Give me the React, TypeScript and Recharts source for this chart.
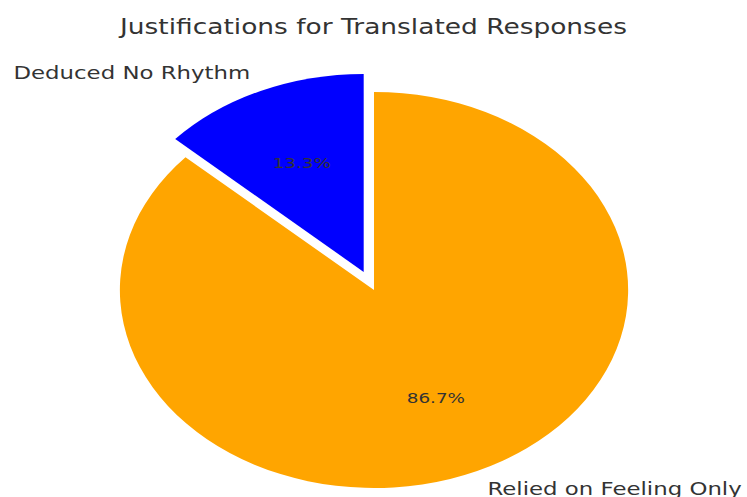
import React from 'react';
import { PieChart, Pie, Cell, Sector } from 'recharts';

const labels = ['Deduced No Rhythm', 'Relied on Feeling Only'];
const shares = [13.3, 86.7];
const colors = ['#0000ff', '#ffa500'];
const explode = [0.1, 0];

const data = labels.map((name, i) => ({ name, value: shares[i] }));

// the reference picture is stretched sideways, so draw narrow and scale the whole thing
const W = 582;
const H = 497;
const SX = 747 / W;
const CX = 291.4;
const CY = 290;
const R = 198;
const RAD = Math.PI / 180;
const FONT = '"DejaVu Sans", sans-serif';

const shift = (index: number, midAngle: number, r: number) => {
  const off = explode[index] * r;
  return { dx: off * Math.cos(-midAngle * RAD), dy: off * Math.sin(-midAngle * RAD) };
};

const ExplodedSector = (props: any) => {
  const { cx, cy, midAngle, outerRadius, index } = props;
  const { dx, dy } = shift(index, midAngle, outerRadius);
  return <Sector {...props} cx={cx + dx} cy={cy + dy} stroke="none" />;
};

const renderLabel = (props: any) => {
  const { cx, cy, midAngle, outerRadius, percent, index } = props;
  const { dx, dy } = shift(index, midAngle, outerRadius);
  const ox = cx + dx;
  const oy = cy + dy;
  const cos = Math.cos(-midAngle * RAD);
  const sin = Math.sin(-midAngle * RAD);
  const lx = ox + outerRadius * 1.1 * cos;
  const ly = oy + outerRadius * 1.1 * sin;
  const px = ox + outerRadius * 0.6 * cos;
  const py = oy + outerRadius * 0.6 * sin;
  return (
    <g>
      <text
        x={lx}
        y={ly}
        textAnchor={cos < 0 ? 'end' : 'start'}
        dominantBaseline="central"
        fill="#333"
        fontSize={17.8}
        fontFamily={FONT}
      >
        {labels[index]}
      </text>
      <text
        x={px}
        y={py}
        textAnchor="middle"
        dominantBaseline="central"
        fill="#333"
        fontSize={14.3}
        fontFamily={FONT}
      >
        {(percent * 100).toFixed(1)}%
      </text>
    </g>
  );
};

export default function App() {
  return (
    <div
      style={{
        position: 'absolute',
        left: 0,
        top: 0,
        width: W,
        height: H,
        transform: `scaleX(${SX})`,
        transformOrigin: '0 0',
        background: '#fff',
      }}
    >
      <div
        style={{
          position: 'absolute',
          left: 0,
          top: 15,
          width: W,
          textAlign: 'center',
          fontFamily: FONT,
          fontSize: 20.6,
          color: '#333',
        }}
      >
        Justifications for Translated Responses
      </div>
      <PieChart width={W} height={H} margin={{ top: 0, right: 0, bottom: 0, left: 0 }}>
        <Pie
          data={data}
          dataKey="value"
          nameKey="name"
          cx={CX}
          cy={CY}
          outerRadius={R}
          startAngle={90}
          endAngle={450}
          stroke="none"
          labelLine={false}
          label={renderLabel}
          shape={ExplodedSector}
          activeShape={ExplodedSector}
          isAnimationActive={false}
        >
          {data.map((d, i) => (
            <Cell key={d.name} fill={colors[i]} />
          ))}
        </Pie>
      </PieChart>
    </div>
  );
}
